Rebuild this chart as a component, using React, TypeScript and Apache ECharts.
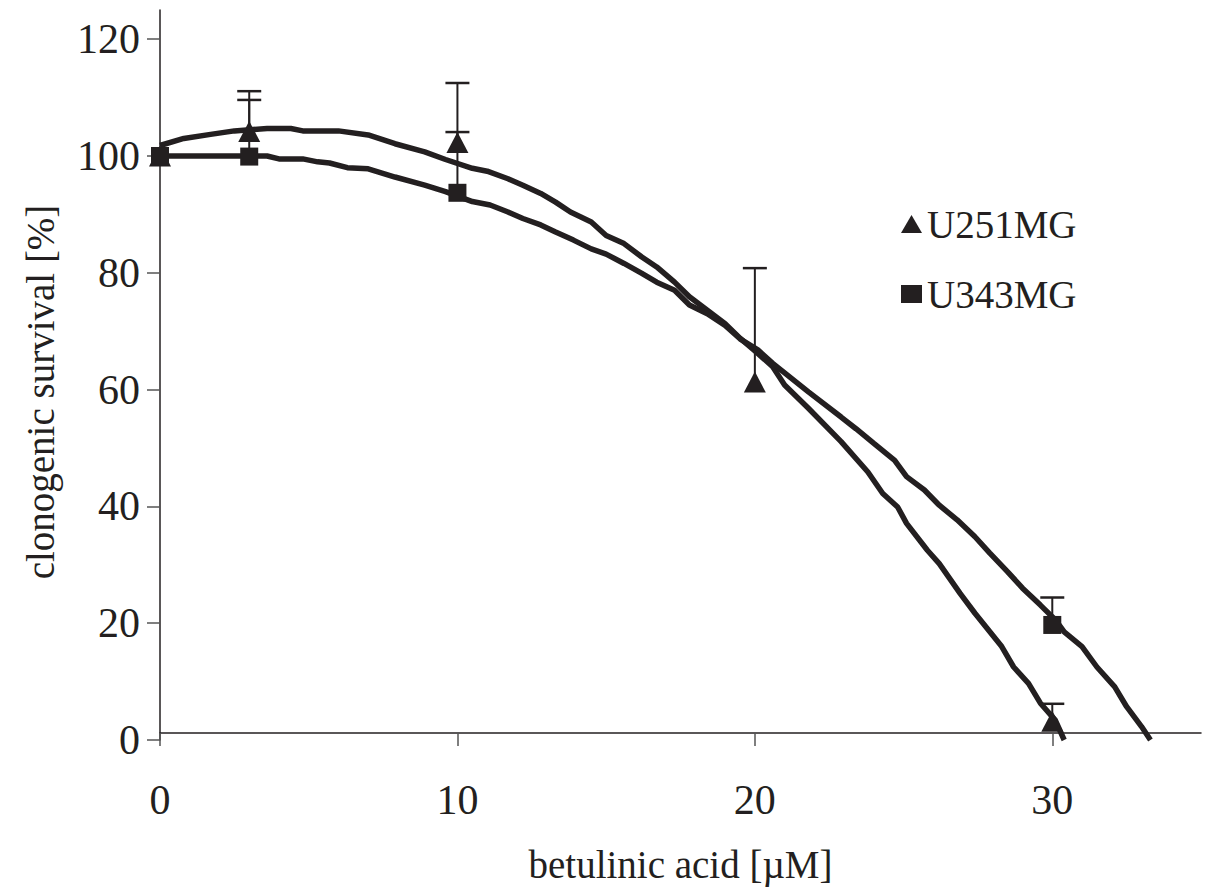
import React, { useEffect, useRef } from "react";
import * as echarts from "echarts";

// ---- data ----
const xTicks = [0, 10, 20, 30];
const yTicks = [0, 20, 40, 60, 80, 100, 120];

const seriesNames = ["U251MG", "U343MG"];
const xTitle = "betulinic acid [µM]";
const yTitle = "clonogenic survival [%]";

// measured points (betulinic acid µM, survival %)
const u251Doses = [0, 3, 10, 20, 30];
const u251Values = [100, 104.2, 102.3, 61.3, 3.2];
const u251ErrTop = [null, 111.1, 112.5, 80.8, 6.2];

const u343Doses = [0, 3, 10, 30];
const u343Values = [100, 99.9, 93.7, 19.7];
const u343ErrTop = [null, 109.6, 104.1, 24.4];

// fitted trend curves
const u251Fit = [
  [0, 101.8], [0.8, 103], [1.7, 103.7], [2.5, 104.3], [3.6, 104.7], [4.4, 104.7], [4.8, 104.3],
  [6, 104.3], [7, 103.6], [7.9, 102.1], [8.9, 100.7], [9.6, 99.4], [10.5, 97.9], [11, 97.4],
  [11.7, 96.1], [12.2, 95], [12.8, 93.6], [13.3, 92.1], [13.8, 90.4], [14.5, 88.7], [15, 86.4],
  [15.6, 85], [16.2, 82.7], [16.7, 81], [17.3, 78.4], [17.8, 75.9], [18.4, 73.6], [19, 71.3],
  [19.5, 68.8], [20.1, 66.2], [20.6, 63.9], [21, 60.8], [21.8, 56.8], [22.9, 51.1], [23.8, 45.9],
  [24.3, 42.2], [24.8, 39.9], [25.1, 37.1], [25.8, 32.5], [26.2, 30.2], [26.9, 25.1], [27.4, 21.7],
  [28.3, 16], [28.7, 12.5], [29.2, 9.7], [29.6, 6.3], [30.1, 3.4], [30.4, 0],
];
const u343Fit = [
  [0, 100], [3.6, 100], [4, 99.5], [4.8, 99.5], [5.3, 99], [5.7, 98.8], [6.3, 98], [7, 97.8],
  [7.9, 96.4], [8.9, 95], [9.6, 93.9], [10.5, 92.2], [11.1, 91.6], [11.7, 90.4], [12.2, 89.3],
  [12.8, 88.2], [13.3, 87], [13.9, 85.6], [14.5, 84.1], [15, 83.2], [15.6, 81.6], [16.2, 79.9],
  [16.7, 78.4], [17.3, 77], [17.8, 74.5], [18.4, 73], [19, 71], [19.5, 68.7], [20.1, 66.8],
  [20.6, 64.5], [21.8, 59.6], [22.9, 55.3], [23.4, 53.3], [24, 50.8], [24.7, 47.9], [25.1, 45.1],
  [25.7, 42.8], [26.2, 40.2], [26.8, 37.7], [27.4, 34.8], [27.9, 32], [28.5, 28.8], [29, 26],
  [29.6, 23.1], [30.1, 20.6], [30.4, 18.5], [31, 16], [31.5, 12.5], [32.1, 9.1], [32.5, 5.7],
  [33, 2.3], [33.3, 0],
];

const INK = "#231f20";
const FONT = "Liberation Serif";

export default function App() {
  const ref = useRef<HTMLDivElement>(null);

  useEffect(() => {
    if (!ref.current) return;
    const chart = echarts.init(ref.current, undefined, { renderer: "svg" });

    const pts = (xs: number[], ys: number[]) => xs.map((x, i) => [x, ys[i]]);
    const errs = (xs: number[], ys: number[], tops: (number | null)[]) =>
      xs
        .map((x, i) => (tops[i] == null ? null : [x, ys[i], tops[i]]))
        .filter((d) => d !== null);

    const errorRender = (params: any, api: any) => {
      const base = api.coord([api.value(0), api.value(1)]);
      const top = api.coord([api.value(0), api.value(2)]);
      const hw = 12;
      return {
        type: "group",
        children: [
          {
            type: "line",
            shape: { x1: base[0], y1: base[1], x2: top[0], y2: top[1] },
            style: { stroke: INK, lineWidth: 2 },
          },
          {
            type: "line",
            shape: { x1: top[0] - hw, y1: top[1], x2: top[0] + hw, y2: top[1] },
            style: { stroke: INK, lineWidth: 2.5 },
          },
        ],
      };
    };

    chart.setOption({
      animation: false,
      backgroundColor: "#ffffff",
      textStyle: { fontFamily: FONT, color: INK },
      grid: { left: 160, right: 4, top: 10, bottom: 155, containLabel: false },
      graphic: [
        {
          type: "text",
          x: 40,
          y: 392,
          rotation: Math.PI / 2,
          style: {
            text: yTitle,
            fontFamily: FONT,
            fontSize: 39,
            fill: INK,
            align: "center",
            verticalAlign: "middle",
          },
        },
      ],
      legend: {
        data: seriesNames,
        orient: "vertical",
        left: 896,
        top: 199,
        itemWidth: 21,
        itemHeight: 18,
        itemGap: 30,
        textStyle: { fontFamily: FONT, fontSize: 39, color: INK, lineHeight: 40 },
        selectedMode: false,
      },
      xAxis: {
        type: "value",
        min: 0,
        max: 35,
        interval: 10,
        offset: -7,
        name: xTitle,
        nameLocation: "middle",
        nameGap: 112,
        nameTextStyle: { fontFamily: FONT, fontSize: 39, color: INK },
        axisLine: { show: true, onZero: false, lineStyle: { color: INK, width: 1.5 } },
        axisTick: { show: true, length: 13, customValues: xTicks, lineStyle: { color: "#555", width: 1.5 } },
        axisLabel: {
          customValues: xTicks,
          margin: 46,
          fontFamily: FONT,
          fontSize: 42,
          color: INK,
          formatter: (v: number) => (xTicks.includes(v) ? String(v) : ""),
        },
        splitLine: { show: false },
      },
      yAxis: {
        type: "value",
        min: 0,
        max: 125,
        interval: 20,
        axisLine: { show: true, lineStyle: { color: INK, width: 1.5 } },
        axisTick: { show: true, length: 13, customValues: yTicks, lineStyle: { color: "#555", width: 1.5 } },
        axisLabel: {
          customValues: yTicks,
          margin: 20,
          fontFamily: FONT,
          fontSize: 42,
          color: INK,
          formatter: (v: number) => (yTicks.includes(v) ? String(v) : ""),
        },
        splitLine: { show: false },
      },
      series: [
        {
          name: "U251MG fit",
          type: "line",
          data: u251Fit,
          showSymbol: false,
          symbol: "none",
          lineStyle: { color: INK, width: 5.5 },
          z: 2,
        },
        {
          name: "U343MG fit",
          type: "line",
          data: u343Fit,
          showSymbol: false,
          symbol: "none",
          lineStyle: { color: INK, width: 5.5 },
          z: 2,
        },
        {
          name: "U251MG err",
          type: "custom",
          renderItem: errorRender,
          data: errs(u251Doses, u251Values, u251ErrTop),
          z: 3,
        },
        {
          name: "U343MG err",
          type: "custom",
          renderItem: errorRender,
          data: errs(u343Doses, u343Values, u343ErrTop),
          z: 3,
        },
        {
          name: seriesNames[0],
          type: "scatter",
          data: pts(u251Doses, u251Values),
          symbol: "triangle",
          symbolSize: [22, 21],
          itemStyle: { color: INK, opacity: 1 },
          z: 4,
        },
        {
          name: seriesNames[1],
          type: "scatter",
          data: pts(u343Doses, u343Values),
          symbol: "rect",
          symbolSize: [18, 18],
          itemStyle: { color: INK, opacity: 1 },
          z: 4,
        },
      ],
    });

    return () => chart.dispose();
  }, []);

  return (
    <div
      ref={ref}
      style={{ position: "fixed", left: 0, top: 0, width: 1205, height: 895, background: "#fff" }}
    />
  );
}
